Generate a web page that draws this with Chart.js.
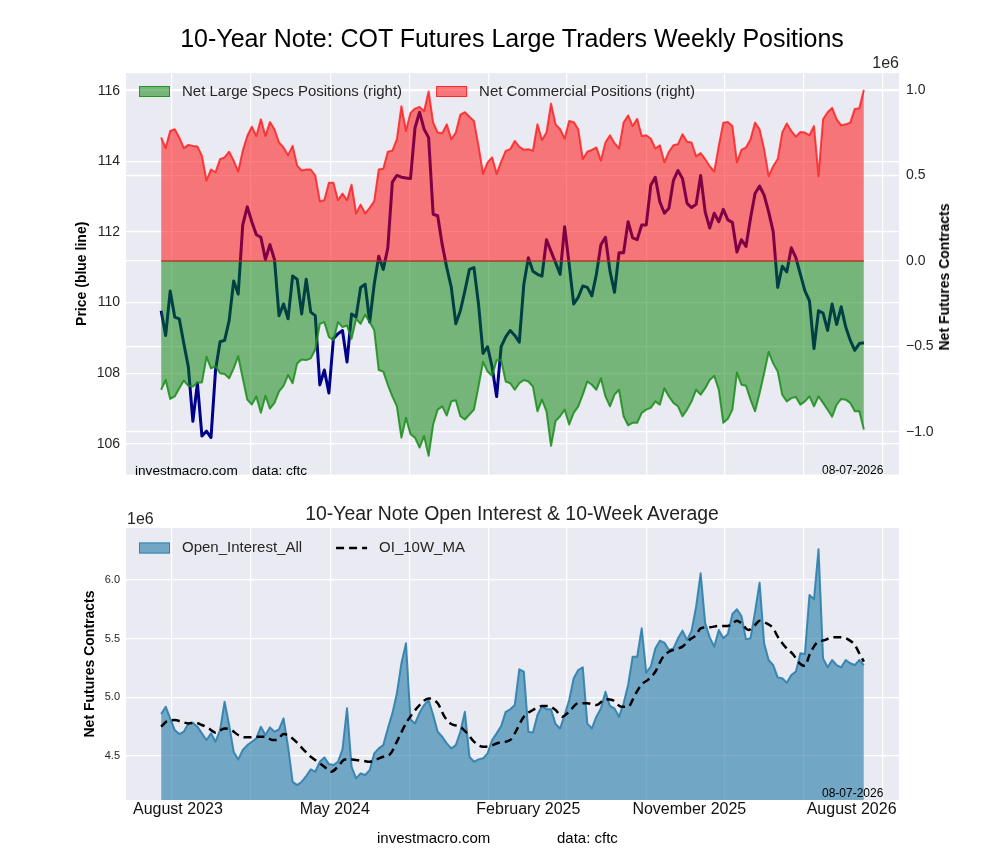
<!DOCTYPE html>
<html>
<head>
<meta charset="utf-8">
<title>10-Year Note: COT Futures Large Traders Weekly Positions</title>
<script src="https://cdn.jsdelivr.net/npm/chart.js@4.4.0/dist/chart.umd.min.js"></script>
<style>
    body { margin: 0; background: #fff; font-family: "Liberation Sans", Arial, sans-serif; }
    #page { position: relative; width: 1000px; height: 860px; overflow: hidden; }
    canvas { position: absolute; left: 0; }
    .txt { position: absolute; white-space: nowrap; line-height: 1; color: #000; }
    .mid { transform: translateY(-50%); }
    .ctr { transform: translate(-50%, -50%); }
</style>
</head>
<body>
<div id="page">
    <canvas id="cotChart" width="1000" height="490" style="top:0"></canvas>
    <canvas id="oiChart" width="1000" height="370" style="top:490px"></canvas>

    <div class="txt ctr" style="left:512px; top:38px; font-size:25px;">10-Year Note: COT Futures Large Traders Weekly Positions</div>
    <div class="txt mid" style="right:101px; top:63px; font-size:16px; color:#262626;">1e6</div>
    <div class="txt ctr" style="left:944px; top:277px; font-size:14px; font-weight:bold; transform:translate(-50%,-50%) rotate(-90deg);">Net Futures Contracts</div>
    <div class="txt mid" style="left:135px; top:471px; font-size:13.6px;">investmacro.com</div>
    <div class="txt mid" style="left:252px; top:471px; font-size:13.6px;">data: cftc</div>
    <div class="txt mid" style="left:822px; top:470px; font-size:12px;">08-07-2026</div>

    <div class="txt ctr" style="left:512px; top:514px; font-size:19.4px; color:#222;">10-Year Note Open Interest &amp; 10-Week Average</div>
    <div class="txt mid" style="left:127px; top:519px; font-size:16px; color:#262626;">1e6</div>
    <div class="txt mid" style="left:822px; top:793px; font-size:12px;">08-07-2026</div>
    <div class="txt mid" style="left:377px; top:837px; font-size:15px;">investmacro.com</div>
    <div class="txt mid" style="left:557px; top:837px; font-size:15px;">data: cftc</div>
</div>

<script>
// Weekly series, one value per week (index 0 = mid July 2023, last = early July 2026)
// Positions and open interest are in millions of contracts (the "1e6" offset on the axes)
const price = [
    109.77, 109.07, 110.33, 109.59, 109.54, 108.84, 108.18, 106.64, 107.72, 106.22,
    106.36, 106.18, 108.09, 108.89, 108.93, 109.49, 110.61, 110.24, 112.20, 112.71,
    112.29, 111.92, 111.85, 111.22, 111.64, 111.22, 109.63, 109.96, 109.54, 110.75,
    110.66, 109.68, 110.66, 109.73, 109.63, 107.67, 108.09, 107.44, 108.98, 109.12,
    109.21, 108.32, 109.68, 109.59, 110.43, 110.52, 109.45, 110.52, 111.31, 110.94,
    111.55, 113.41, 113.60, 113.55, 113.53, 113.51, 114.95, 115.39, 114.91, 114.67,
    112.50, 112.46, 111.64, 110.99, 110.43, 109.40, 109.77, 110.33, 110.94, 110.99,
    109.96, 108.56, 108.75, 108.18, 107.34, 108.75, 109.03, 109.21, 109.07, 108.88,
    110.52, 111.27, 110.89, 110.80, 110.75, 111.78, 111.45, 111.13, 110.80, 112.15,
    111.08, 109.96, 110.15, 110.47, 110.43, 110.19, 110.80, 111.64, 111.85, 110.89,
    110.29, 111.41, 111.41, 112.29, 111.83, 111.78, 112.20, 112.20, 113.32, 113.55,
    112.85, 112.53, 112.67, 113.46, 113.74, 113.51, 112.81, 112.69, 112.78, 113.60,
    112.57, 112.11, 112.53, 112.29, 112.64, 112.34, 112.27, 111.43, 111.78, 111.59,
    112.39, 113.09, 113.30, 113.04, 112.57, 112.01, 110.43, 111.03, 110.87, 111.55,
    111.27, 110.80, 110.33, 110.05, 108.70, 109.77, 109.70, 109.21, 109.96, 109.38,
    109.88, 109.31, 108.93, 108.65, 108.84, 108.86
];

const netCommercial = [
    0.721, 0.659, 0.759, 0.769, 0.721, 0.659, 0.678, 0.672, 0.669, 0.614,
    0.470, 0.534, 0.518, 0.595, 0.605, 0.638, 0.586, 0.522, 0.643, 0.730,
    0.784, 0.730, 0.827, 0.730, 0.811, 0.769, 0.692, 0.663, 0.618, 0.672,
    0.557, 0.528, 0.534, 0.534, 0.499, 0.349, 0.354, 0.457, 0.457, 0.354,
    0.393, 0.354, 0.445, 0.277, 0.329, 0.277, 0.310, 0.349, 0.534, 0.538,
    0.638, 0.643, 0.711, 0.904, 0.759, 0.865, 0.890, 0.900, 0.875, 0.990,
    0.808, 0.750, 0.746, 0.798, 0.711, 0.750, 0.855, 0.869, 0.842, 0.817,
    0.672, 0.509, 0.576, 0.605, 0.509, 0.580, 0.643, 0.653, 0.701, 0.667,
    0.649, 0.653, 0.643, 0.798, 0.707, 0.750, 0.919, 0.798, 0.769, 0.715,
    0.817, 0.811, 0.769, 0.595, 0.638, 0.649, 0.663, 0.586, 0.692, 0.734,
    0.688, 0.657, 0.808, 0.850, 0.788, 0.830, 0.730, 0.734, 0.715, 0.657,
    0.676, 0.576, 0.638, 0.676, 0.682, 0.740, 0.696, 0.692, 0.611, 0.630,
    0.595, 0.553, 0.522, 0.672, 0.808, 0.811, 0.788, 0.576, 0.649, 0.663,
    0.711, 0.808, 0.769, 0.653, 0.495, 0.553, 0.595, 0.750, 0.803, 0.759,
    0.726, 0.753, 0.750, 0.734, 0.788, 0.495, 0.827, 0.869, 0.894, 0.827,
    0.792, 0.798, 0.808, 0.888, 0.892, 1.000
];

const netLargeSpecs = [
    -0.753, -0.696, -0.807, -0.792, -0.744, -0.699, -0.730, -0.734, -0.711, -0.711,
    -0.561, -0.628, -0.615, -0.657, -0.661, -0.686, -0.628, -0.557, -0.686, -0.811,
    -0.840, -0.792, -0.888, -0.788, -0.863, -0.830, -0.763, -0.730, -0.667, -0.715,
    -0.599, -0.576, -0.580, -0.570, -0.518, -0.368, -0.358, -0.445, -0.464, -0.358,
    -0.387, -0.378, -0.455, -0.339, -0.368, -0.314, -0.358, -0.406, -0.638, -0.647,
    -0.724, -0.792, -0.850, -1.033, -0.917, -1.013, -1.033, -1.091, -1.023, -1.139,
    -0.956, -0.869, -0.850, -0.904, -0.821, -0.815, -0.908, -0.927, -0.898, -0.869,
    -0.734, -0.590, -0.647, -0.672, -0.580, -0.580, -0.705, -0.715, -0.753, -0.715,
    -0.696, -0.705, -0.734, -0.879, -0.811, -0.879, -1.081, -0.936, -0.908, -0.869,
    -0.956, -0.888, -0.850, -0.782, -0.705, -0.724, -0.753, -0.686, -0.792, -0.850,
    -0.782, -0.753, -0.908, -0.961, -0.946, -0.946, -0.888, -0.869, -0.859, -0.821,
    -0.840, -0.744, -0.792, -0.830, -0.850, -0.908, -0.869, -0.821, -0.753, -0.782,
    -0.744, -0.696, -0.672, -0.753, -0.946, -0.923, -0.869, -0.653, -0.724, -0.730,
    -0.811, -0.879, -0.773, -0.657, -0.532, -0.599, -0.647, -0.782, -0.821, -0.802,
    -0.796, -0.840, -0.821, -0.792, -0.850, -0.792, -0.830, -0.869, -0.911, -0.840,
    -0.807, -0.811, -0.830, -0.879, -0.879, -0.985
];

const openInterest = [
    4.858, 4.920, 4.821, 4.721, 4.687, 4.707, 4.778, 4.784, 4.750, 4.693,
    4.636, 4.693, 4.622, 4.721, 4.963, 4.764, 4.537, 4.471, 4.551, 4.593,
    4.622, 4.650, 4.750, 4.679, 4.744, 4.707, 4.727, 4.821, 4.579, 4.281,
    4.252, 4.281, 4.329, 4.386, 4.366, 4.451, 4.488, 4.431, 4.423, 4.451,
    4.557, 4.906, 4.409, 4.309, 4.352, 4.338, 4.380, 4.522, 4.565, 4.593,
    4.735, 4.863, 5.034, 5.290, 5.460, 4.812, 4.778, 4.869, 4.934, 4.977,
    4.849, 4.707, 4.664, 4.608, 4.565, 4.593, 4.707, 4.877, 4.494, 4.451,
    4.471, 4.480, 4.522, 4.636, 4.693, 4.755, 4.877, 4.898, 4.934, 5.239,
    5.219, 4.707, 4.699, 4.849, 4.926, 4.898, 4.898, 4.772, 4.735, 4.849,
    4.977, 5.162, 5.233, 5.256, 4.778, 4.735, 4.835, 4.906, 5.048, 4.926,
    4.906, 4.835, 4.949, 5.105, 5.346, 5.346, 5.588, 5.210, 5.261, 5.417,
    5.483, 5.466, 5.403, 5.417, 5.503, 5.568, 5.488, 5.568, 5.773, 6.057,
    5.631, 5.511, 5.432, 5.574, 5.503, 5.540, 5.710, 5.750, 5.693, 5.494,
    5.503, 5.730, 5.977, 5.460, 5.318, 5.275, 5.170, 5.162, 5.125, 5.190,
    5.219, 5.375, 5.370, 5.872, 5.835, 6.261, 5.332, 5.256, 5.318, 5.275,
    5.256, 5.318, 5.290, 5.275, 5.318, 5.275
];

// 10-week average at these week positions
const maWeeks = [
    0, 1.5, 3, 4.5, 6, 7.5, 9, 10.5, 12, 14, 15.5, 17, 18.5, 20, 21.5, 23, 24.5, 25.5, 27, 28.5,
    30, 31.5, 33, 34.5, 36, 37.5, 39, 40.5, 42, 43, 44.5, 46, 47.5, 49, 50.5, 52, 54, 55.5, 57, 59,
    61, 62.5, 64, 66, 67.5, 69, 71, 72.5, 74.5, 77, 78, 80, 82, 84, 85.5, 87, 88.5, 90, 92, 94,
    96, 98, 99.5, 101.5, 103, 104.5, 106, 107.5, 109, 110.5, 112, 113.5, 115, 116.5, 118, 119, 121, 123, 125, 126,
    127, 128, 129.5, 131, 132, 133.5, 135, 136, 137.5, 139.5, 140.5, 142, 143, 144.5, 146.5, 148, 150, 151.5, 153, 154,
    155
];
const maValues = [
    4.750, 4.801, 4.806, 4.792, 4.778, 4.784, 4.764, 4.735, 4.699, 4.735, 4.721, 4.679, 4.659, 4.659, 4.664, 4.664, 4.636, 4.636, 4.687, 4.664,
    4.613, 4.551, 4.494, 4.451, 4.409, 4.366, 4.409, 4.471, 4.471, 4.466, 4.460, 4.451, 4.471, 4.494, 4.515, 4.622, 4.778, 4.864, 4.934, 4.991,
    4.949, 4.835, 4.772, 4.749, 4.693, 4.622, 4.579, 4.585, 4.613, 4.636, 4.693, 4.835, 4.892, 4.926, 4.926, 4.892, 4.835, 4.878, 4.949, 4.949,
    4.934, 4.983, 4.977, 4.920, 4.920, 5.020, 5.110, 5.153, 5.218, 5.332, 5.389, 5.409, 5.432, 5.489, 5.531, 5.588, 5.597, 5.608, 5.608, 5.631,
    5.653, 5.631, 5.574, 5.616, 5.653, 5.631, 5.588, 5.517, 5.437, 5.361, 5.304, 5.267, 5.361, 5.460, 5.489, 5.511, 5.511, 5.494, 5.446, 5.375,
    5.304
];

// Axis ticks: vertical grid every 4 months, month labels on the lower panel
const gridWeeks = [2.4, 19.8, 37.4, 54.7, 72.3, 89.5, 107.1, 124.2, 141.6, 159.2];
const monthLabels = ['August 2023', 'May 2024', 'February 2025', 'November 2025', 'August 2026'];
const monthLabelWeeks = [3.7, 38.3, 81, 116.5, 152.3];
const priceTicks = [106, 108, 110, 112, 114, 116];
const positionTicks = [-1, -0.5, 0, 0.5, 1];
const oiTicks = [4.5, 5.0, 5.5, 6.0];

const GRID = { color: '#ffffff', lineWidth: 1.2, drawTicks: false };
const TICK_COLOR = '#262626';

Chart.defaults.font.family = '"Liberation Sans", Arial, sans-serif';
Chart.defaults.animation = false;

// Grey plotting area like the seaborn "darkgrid" style
const plotBackground = {
    id: 'plotBackground',
    beforeDraw(chart) {
        const { ctx, chartArea: a } = chart;
        ctx.save();
        ctx.fillStyle = '#EAEAF2';
        ctx.fillRect(a.left, a.top, a.right - a.left, a.bottom - a.top);
        ctx.restore();
    }
};

// Legend drawn inside the plot, items in a single row
const insideLegend = {
    id: 'insideLegend',
    afterDraw(chart, args, opts) {
        const ctx = chart.ctx;
        let x = opts.x;
        const y = opts.y;
        ctx.save();
        ctx.font = '15px "Liberation Sans", Arial, sans-serif';
        ctx.textBaseline = 'middle';
        opts.items.forEach(idx => {
            const ds = chart.data.datasets[idx];
            if (ds.fill) {
                ctx.fillStyle = ds.backgroundColor;
                ctx.fillRect(x, y - 5.5, 31, 11);
                ctx.strokeStyle = ds.borderColor;
                ctx.lineWidth = 1;
                ctx.strokeRect(x + 0.5, y - 5, 30, 10);
            } else {
                ctx.strokeStyle = ds.borderColor;
                ctx.lineWidth = ds.borderWidth;
                ctx.setLineDash(ds.borderDash || []);
                ctx.beginPath();
                ctx.moveTo(x, y);
                ctx.lineTo(x + 31, y);
                ctx.stroke();
                ctx.setLineDash([]);
            }
            ctx.fillStyle = TICK_COLOR;
            ctx.fillText(ds.label, x + 43, y);
            x += 43 + ctx.measureText(ds.label).width + 34;
        });
        ctx.restore();
    }
};

// Edge of both filled areas along zero
const zeroEdge = {
    id: 'zeroEdge',
    afterDatasetsDraw(chart) {
        const { ctx, scales } = chart;
        const yPix = scales.y2.getPixelForValue(0);
        ctx.save();
        ctx.strokeStyle = 'rgba(170, 45, 25, 0.85)';
        ctx.lineWidth = 1.5;
        ctx.beginPath();
        ctx.moveTo(scales.x.getPixelForValue(0), yPix);
        ctx.lineTo(scales.x.getPixelForValue(price.length - 1), yPix);
        ctx.stroke();
        ctx.restore();
    }
};

function toPoints(values) {
    return values.map((v, i) => ({ x: i, y: v }));
}

function fixedTicks(list) {
    return axis => { axis.ticks = list.map(v => ({ value: v })); };
}

function minusFormat(v) {
    const s = Math.abs(v).toFixed(1);
    return v < 0 ? '\u2212' + s : s;
}

function createCotChart() {
    const ctx = document.getElementById('cotChart').getContext('2d');
    return new Chart(ctx, {
        type: 'line',
        data: {
            datasets: [{
                label: 'Net Large Specs Positions (right)',
                data: toPoints(netLargeSpecs),
                yAxisID: 'y2',
                fill: 'origin',
                backgroundColor: 'rgba(0, 128, 0, 0.5)',
                borderColor: 'rgba(25, 140, 25, 0.85)',
                borderWidth: 2,
                order: 0
            }, {
                label: 'Net Commercial Positions (right)',
                data: toPoints(netCommercial),
                yAxisID: 'y2',
                fill: 'origin',
                backgroundColor: 'rgba(255, 0, 0, 0.5)',
                borderColor: 'rgba(255, 25, 25, 0.8)',
                borderWidth: 2,
                order: 1
            }, {
                label: 'Price',
                data: toPoints(price),
                yAxisID: 'y',
                fill: false,
                borderColor: '#00008B',
                borderWidth: 3,
                order: 2
            }]
        },
        options: {
            responsive: false,
            layout: { padding: { top: 73, right: 0, bottom: 0, left: 0 } },
            elements: {
                point: { radius: 0 },
                line: { tension: 0, borderJoinStyle: 'round' }
            },
            plugins: {
                legend: { display: false },
                tooltip: { enabled: false },
                insideLegend: { x: 139, y: 91.5, items: [0, 1] }
            },
            scales: {
                x: {
                    type: 'linear', min: -7.75, max: 162.75,
                    afterBuildTicks: fixedTicks(gridWeeks),
                    afterFit: axis => { axis.height = 11; },
                    grid: GRID,
                    border: { display: false },
                    ticks: { display: false, autoSkip: false }
                },
                y: {
                    position: 'left', min: 105.13, max: 116.5,
                    afterBuildTicks: fixedTicks(priceTicks),
                    afterFit: axis => { axis.width = 126; },
                    grid: GRID,
                    border: { display: false },
                    ticks: { padding: 6, color: TICK_COLOR, font: { size: 14 }, callback: v => v.toFixed(0) },
                    title: {
                        display: true, text: 'Price (blue line)', color: '#000',
                        font: { size: 14, weight: 'bold' }, padding: { top: 73.6, bottom: 0 }
                    }
                },
                y2: {
                    position: 'right', min: -1.249, max: 1.098,
                    afterBuildTicks: fixedTicks(positionTicks),
                    afterFit: axis => { axis.width = 101; },
                    grid: GRID,
                    border: { display: false },
                    ticks: { padding: 7, color: TICK_COLOR, font: { size: 14 }, callback: minusFormat }
                }
            }
        },
        plugins: [plotBackground, zeroEdge, insideLegend]
    });
}

function createOpenInterestChart() {
    const ctx = document.getElementById('oiChart').getContext('2d');
    const allTicks = gridWeeks.concat(monthLabelWeeks).sort((a, b) => a - b);
    return new Chart(ctx, {
        type: 'line',
        data: {
            datasets: [{
                label: 'Open_Interest_All',
                data: toPoints(openInterest),
                fill: 'start',
                backgroundColor: 'rgba(40, 125, 170, 0.62)',
                borderColor: 'rgba(45, 128, 172, 0.9)',
                borderWidth: 2,
                order: 1
            }, {
                label: 'OI_10W_MA',
                data: maWeeks.map((w, i) => ({ x: w, y: maValues[i] })),
                fill: false,
                borderColor: '#000000',
                borderDash: [8, 5],
                borderWidth: 2.5,
                tension: 0.4,
                cubicInterpolationMode: 'monotone',
                order: 0
            }]
        },
        options: {
            responsive: false,
            layout: { padding: { top: 38, right: 101, bottom: 0, left: 0 } },
            elements: {
                point: { radius: 0 },
                line: { tension: 0, borderJoinStyle: 'round' }
            },
            plugins: {
                legend: { display: false },
                tooltip: { enabled: false },
                insideLegend: { x: 139, y: 58, items: [0, 1] }
            },
            scales: {
                x: {
                    type: 'linear', min: -7.75, max: 162.75,
                    afterBuildTicks: fixedTicks(allTicks),
                    afterFit: axis => { axis.height = 60; },
                    grid: {
                        drawTicks: false,
                        lineWidth: 1.2,
                        color: c => (c.tick && monthLabelWeeks.includes(c.tick.value)) ? 'rgba(0,0,0,0)' : '#ffffff'
                    },
                    border: { display: false },
                    ticks: {
                        autoSkip: false, maxRotation: 0, minRotation: 0, padding: 0,
                        color: '#111', font: { size: 16 },
                        callback: v => {
                            const k = monthLabelWeeks.indexOf(v);
                            return k >= 0 ? monthLabels[k] : '';
                        }
                    }
                },
                y: {
                    position: 'left', min: 4.125, max: 6.443,
                    afterBuildTicks: fixedTicks(oiTicks),
                    afterFit: axis => { axis.width = 126; },
                    grid: GRID,
                    border: { display: false },
                    ticks: { padding: 6, color: TICK_COLOR, font: { size: 11 }, callback: v => v.toFixed(1) },
                    title: {
                        display: true, text: 'Net Futures Contracts', color: '#000',
                        font: { size: 14, weight: 'bold' }, padding: { top: 81.6, bottom: 0 }
                    }
                }
            }
        },
        plugins: [plotBackground, insideLegend]
    });
}

document.addEventListener('DOMContentLoaded', function() {
    createCotChart();
    createOpenInterestChart();
});
</script>
</body>
</html>
